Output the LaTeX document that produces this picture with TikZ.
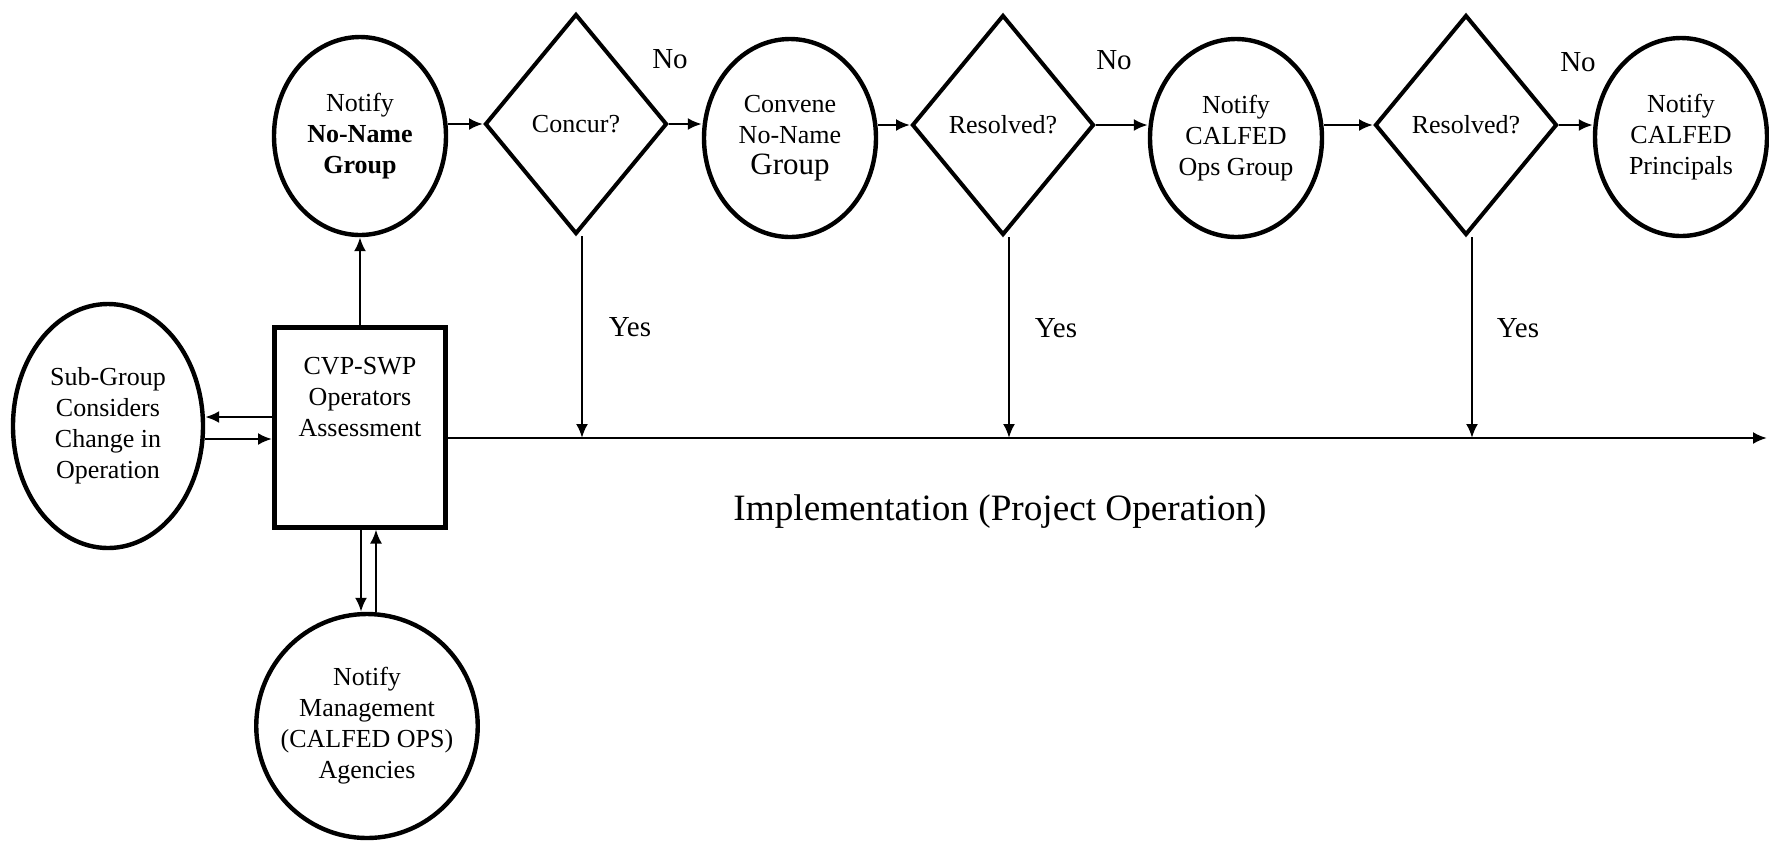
\documentclass[tikz,border=0pt]{standalone}
\usepackage{fontspec}
\setmainfont{Liberation Serif}
\usetikzlibrary{calc,arrows.meta,shapes.geometric}

\begin{document}
\begin{tikzpicture}[x=0.5pt,y=-0.5pt,
    oval/.style={draw,ellipse,line width=2.2pt,inner sep=0pt,align=center,
      font=\fontsize{13}{15.5}\selectfont,minimum width=86pt,minimum height=99pt},
    decide/.style={draw,diamond,line width=2pt,inner sep=0pt,
      font=\fontsize{13}{15.5}\selectfont,minimum width=91pt,minimum height=110pt},
    arr/.style={line width=1.2pt,-{Latex[length=7pt,width=6pt]}},
    lbl/.style={font=\fontsize{14.5}{17}\selectfont}]

  \useasboundingbox (0,0) rectangle (1769,843);

  % top row
  \node[oval] (nng) at (360,136) {Notify\\\textbf{No-Name}\\\textbf{Group}};
  \node[decide] (concur) at (576,124) {Concur?};
  \node[oval] (convene) at (790,138) {Convene\\No-Name\\{\fontsize{15.5}{15.5}\selectfont Group}};
  \node[decide] (solved) at (1003,125) {Resolved?};
  \node[oval] (opsgrp) at (1236,138) {Notify\\CALFED\\Ops Group};
  \node[decide] (solvedb) at (1466,125) {Resolved?};
  \node[oval] (princ) at (1681,137) {Notify\\CALFED\\Principals};

  % left part
  \node[draw,line width=2.5pt,minimum width=85.5pt,minimum height=100pt] (box) at (360,427) {};
  \node[align=center,font=\fontsize{13}{15.5}\selectfont] (boxtext) at (360,397)
    {CVP-SWP\\Operators\\Assessment};
  \node[oval,minimum width=95pt,minimum height=122pt] (sub) at (108,426)
    {Sub-Group\\Considers\\Change in\\Operation};
  \node[oval,inner xsep=-4pt,minimum width=110.5pt,minimum height=112pt] (mgmt) at (367,726)
    {Notify\\Management\\(CALFED OPS)\\Agencies};

  % labels
  \node[lbl] (no1) at (670,59) {No};
  \node[lbl] (no2) at (1114,60) {No};
  \node[lbl] (no3) at (1578,62) {No};
  \node[lbl] (yes1) at (630,327) {Yes};
  \node[lbl] (yes2) at (1056,328) {Yes};
  \node[lbl] (yes3) at (1518,328) {Yes};
  \node[font=\fontsize{18.6}{22}\selectfont] (impl) at (1000,512)
    {Implementation (Project Operation)};

  % connectors
  \coordinate (mainstart) at ($(box.east)+(0,11)$);
  \coordinate (mainend) at (1767,438);
  \draw[arr] (mainstart) -- (mainend);

  \draw[arr] (box.north) -- (nng.south);
  \draw[arr] (nng.east |- concur) -- (concur.west);
  \draw[arr] (concur.east) -- (concur.east -| convene.west);
  \draw[arr] (convene.east |- solved) -- (solved.west);
  \draw[arr] (solved.east) -- (solved.east -| opsgrp.west);
  \draw[arr] (opsgrp.east |- solvedb) -- (solvedb.west);
  \draw[arr] (solvedb.east) -- (solvedb.east -| princ.west);

  \coordinate (yesa) at ($(concur.south)+(6,0)$);
  \coordinate (yesb) at ($(solved.south)+(6,0)$);
  \coordinate (yesc) at ($(solvedb.south)+(6,0)$);
  \draw[arr] (yesa) -- (yesa |- mainend);
  \draw[arr] (yesb) -- (yesb |- mainend);
  \draw[arr] (yesc) -- (yesc |- mainend);

  \coordinate (subout) at ($(box.west)+(0,-10)$);
  \coordinate (subin) at ($(box.west)+(0,12)$);
  \draw[arr] (subout) -- (subout -| sub.east);
  \draw[arr] (subin -| sub.east) -- (subin);

  \coordinate (mdown) at ($(box.south)+(1,0)$);
  \coordinate (mup) at ($(box.south)+(16,0)$);
  \draw[arr] (mdown) -- (mdown |- mgmt.north);
  \draw[arr] (mup |- mgmt.north) -- (mup);
\end{tikzpicture}
\end{document}
